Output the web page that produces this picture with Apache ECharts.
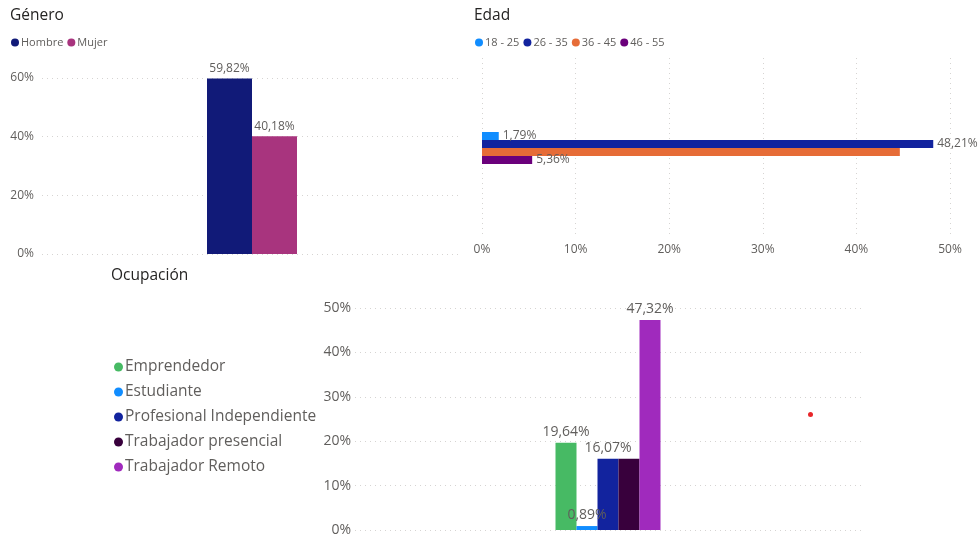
<!DOCTYPE html>
<html><head><meta charset="utf-8">
<script src="https://cdn.jsdelivr.net/npm/echarts@6/dist/echarts.min.js"></script>
<style>html,body{margin:0;padding:0;background:#fff}#c{width:979px;height:542px}</style>
</head><body><div id="c"></div>
<script>
// Género
const generoNames = ['Hombre', 'Mujer'];
const generoValues = [59.82, 40.18];
const generoColors = ['#111A78', '#A8347E'];
// Edad
const edadNames = ['18 - 25', '26 - 35', '36 - 45', '46 - 55'];
const edadValues = [1.79, 48.21, 44.64, 5.36];
const edadShowLabel = [true, true, false, true];
const edadColors = ['#118DFF', '#12239E', '#E66C37', '#6B007B'];
// Ocupación
const ocupNames = ['Emprendedor', 'Estudiante', 'Profesional Independiente', 'Trabajador presencial', 'Trabajador Remoto'];
const ocupValues = [19.64, 0.89, 16.07, 16.07, 47.32];
const ocupShowLabel = [true, true, true, false, true];
const ocupColors = ['#47BA64', '#118DFF', '#12239E', '#38003C', '#A02ABD'];
// Axis ticks
const generoTicks = { min: 0, max: 60, interval: 20 };
const edadTicks = { min: 0, max: 50, interval: 10 };
const ocupTicks = { min: 0, max: 50, interval: 10 };

const FONT = "'Segoe UI', 'Open Sans', 'Noto Sans', sans-serif";
const GRAY = '#605E5C';
const fmt = v => v.toFixed(2).replace('.', ',') + '%';
const split = { show: true, lineStyle: { color: '#D6D4D2', type: [1, 4], width: 1 } };

const chart = echarts.init(document.getElementById('c'));
const series = [];
generoNames.forEach((n, i) => series.push({
  name: n, type: 'bar', xAxisIndex: 0, yAxisIndex: 0, barWidth: 45, barGap: '0%',
  itemStyle: { color: generoColors[i] }, data: [generoValues[i]],
  label: { show: true, position: 'top', distance: 4, color: GRAY, fontSize: 12, fontFamily: FONT, formatter: p => fmt(p.value) }
}));
edadNames.forEach((n, i) => series.push({
  name: n, type: 'bar', xAxisIndex: 1, yAxisIndex: 1, barWidth: 8, barGap: '0%',
  itemStyle: { color: edadColors[i] }, data: [edadValues[i]],
  label: { show: edadShowLabel[i], position: 'right', distance: 4, color: GRAY, fontSize: 12, fontFamily: FONT, formatter: p => fmt(p.value) }
}));
ocupNames.forEach((n, i) => series.push({
  name: n, type: 'bar', xAxisIndex: 2, yAxisIndex: 2, barWidth: 21, barGap: '0%',
  itemStyle: { color: ocupColors[i] }, data: [ocupValues[i]],
  label: { show: ocupShowLabel[i], position: 'top', distance: 4, color: GRAY, fontSize: 14, fontFamily: FONT, formatter: p => fmt(p.value) }
}));

const titleStyle = { color: '#252423', fontSize: 15.5, fontWeight: 'normal', fontFamily: FONT };
const legendBase = { icon: 'circle', itemWidth: 8, itemHeight: 8, itemGap: 4, padding: 0,
  textStyle: { color: GRAY, fontSize: 11, fontFamily: FONT, padding: [0, 0, 0, -3] } };

chart.setOption({
  animation: false,
  title: [
    { text: 'Género', left: 10, top: 8, padding: 0, textStyle: titleStyle },
    { text: 'Edad', left: 474, top: 8, padding: 0, textStyle: titleStyle },
    { text: 'Ocupación', left: 111, top: 268, padding: 0, textStyle: titleStyle }
  ],
  legend: [
    Object.assign({}, legendBase, { data: generoNames, left: 11, top: 37 }),
    Object.assign({}, legendBase, { data: edadNames, left: 475, top: 37 }),
    Object.assign({}, legendBase, { data: ocupNames, left: 114, top: 359, orient: 'vertical', itemWidth: 9, itemHeight: 9, itemGap: 9,
      textStyle: { color: GRAY, fontSize: 15.5, fontFamily: FONT, padding: [0, 0, 0, -3] } })
  ],
  grid: [
    { left: 42, right: 517, top: 78, bottom: 288 },
    { left: 482, right: 29, top: 58, bottom: 304 },
    { left: 355, right: 118, top: 308, bottom: 12 }
  ],
  xAxis: [
    { gridIndex: 0, type: 'category', data: ['Género'], axisLine: { show: false }, axisTick: { show: false }, axisLabel: { show: false } },
    { gridIndex: 1, type: 'value', min: edadTicks.min, max: edadTicks.max, interval: edadTicks.interval,
      axisLine: { show: false }, axisTick: { show: false }, splitLine: split,
      axisLabel: { color: GRAY, fontSize: 12, fontFamily: FONT, margin: 6, formatter: v => v + '%' } },
    { gridIndex: 2, type: 'category', data: ['Ocupación'], axisLine: { show: false }, axisTick: { show: false }, axisLabel: { show: false } }
  ],
  yAxis: [
    { gridIndex: 0, type: 'value', min: generoTicks.min, max: generoTicks.max, interval: generoTicks.interval,
      axisLine: { show: false }, axisTick: { show: false }, splitLine: split,
      axisLabel: { color: GRAY, fontSize: 12, fontFamily: FONT, margin: 8, formatter: v => v + '%' } },
    { gridIndex: 1, type: 'category', data: ['Edad'], axisLine: { show: false }, axisTick: { show: false }, axisLabel: { show: false } },
    { gridIndex: 2, type: 'value', min: ocupTicks.min, max: ocupTicks.max, interval: ocupTicks.interval,
      axisLine: { show: false }, axisTick: { show: false }, splitLine: split,
      axisLabel: { color: GRAY, fontSize: 14, fontFamily: FONT, margin: 4, formatter: v => v + '%' } }
  ],
  graphic: [
    { type: 'circle', left: 808, top: 412, shape: { r: 2.5 }, style: { fill: '#E8262A' } }
  ],
  series: series
});
</script></body></html>
